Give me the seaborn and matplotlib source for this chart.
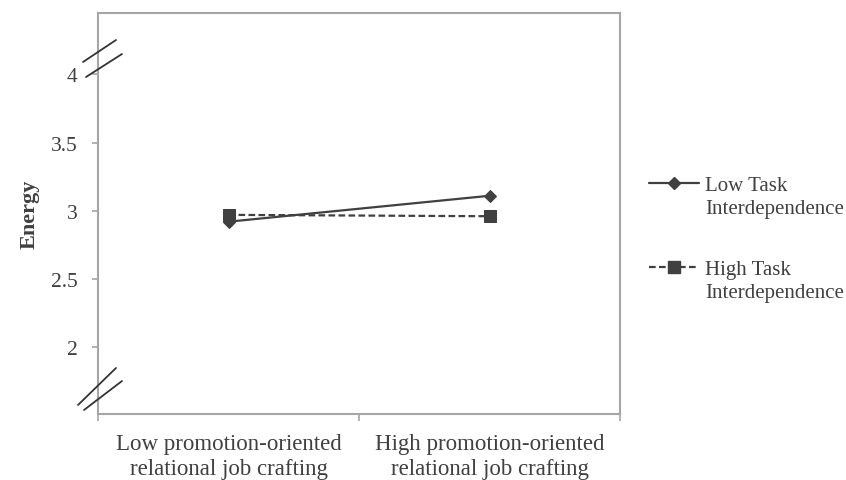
import pandas as pd
import matplotlib.pyplot as plt
import seaborn as sns
from matplotlib.lines import Line2D

# data
categories = ["Low promotion-oriented\nrelational job crafting",
              "High promotion-oriented\nrelational job crafting"]
low_task = [2.92, 3.11]
high_task = [2.97, 2.96]
series_names = ["Low Task\nInterdependence", "High Task\nInterdependence"]
y_ticks = [2, 2.5, 3, 3.5, 4]

df = pd.DataFrame({
    "x": [0, 1, 0, 1],
    "energy": low_task + high_task,
    "group": [series_names[0]] * 2 + [series_names[1]] * 2,
})

sns.set_style("white")
plt.rcParams["font.family"] = ["Liberation Serif", "DejaVu Serif"]

text_col = "#404040"
line_col = "#404040"
spine_col = "#A6A6A6"
W, H = 846, 481

fig = plt.figure(figsize=(W / 100, H / 100), dpi=100)
ax = fig.add_axes([98 / W, 1 - 415 / H, (620 - 98) / W, (415 - 14) / H])

markers = {series_names[0]: "D", series_names[1]: "s"}
dashes = {series_names[0]: "", series_names[1]: (3, 1.5)}
sns.lineplot(data=df, x="x", y="energy", style="group", markers=markers, dashes=dashes,
             color=line_col, linewidth=1.6, legend=False, ax=ax)
for ln, ms in zip(ax.lines, [6, 8]):
    ln.set_markersize(ms)
    ln.set_markeredgecolor(line_col)

ax.set_xlim(-0.5, 1.5)
ax.set_ylim(1.51, 4.45)
ax.set_yticks(y_ticks)
ax.set_yticklabels(["2", "2.5", "3", "3.5", "4"])
ax.set_xticks([-0.5, 0.5, 1.5])
ax.set_xticklabels([])
ax.set_xticks([0, 1], minor=True)
ax.set_xticklabels(categories, minor=True)
ax.tick_params(axis="x", which="minor", bottom=False, pad=12, labelsize=16.5, labelcolor=text_col)
ax.tick_params(axis="x", which="major", bottom=True, length=5, color=spine_col, width=1.2)
ax.tick_params(axis="y", left=True, length=4.5, color=spine_col, width=1.2,
               labelsize=15.5, labelcolor=text_col, pad=10)
for s in ax.spines.values():
    s.set_color(spine_col)
    s.set_linewidth(1.5)
ax.set_xlabel("")
ax.set_ylabel("Energy", fontsize=16, fontweight="bold", color=text_col, labelpad=8)

# axis break marks on the left spine (pixel positions)
breaks = [((83, 63), (116, 41)), ((86, 78), (122, 55)),
          ((78, 406), (116, 369)), ((84, 411), (122, 382))]
for (x0, y0), (x1, y1) in breaks:
    fig.add_artist(Line2D([x0 / W, x1 / W], [1 - y0 / H, 1 - y1 / H],
                          color="#333333", lw=1.3, transform=fig.transFigure))

# legend drawn by hand so the key sits on the first text line
leg_y = [184, 268]
for name, y, ls, mk, ms in zip(series_names, leg_y, ["-", (0, (3, 1.5))], ["D", "s"], [6, 8]):
    yf = 1 - y / H
    fig.add_artist(Line2D([649 / W, 699 / W], [yf, yf], color=line_col, lw=1.6, ls=ls,
                          transform=fig.transFigure))
    fig.add_artist(Line2D([674 / W], [yf], color=line_col, marker=mk, markersize=ms,
                          ls="none", transform=fig.transFigure))
    fig.text(705 / W, yf + 7 / H, name, ha="left", va="top", fontsize=15,
             color=text_col, linespacing=1.3)

fig.savefig("out.png", dpi=100)
